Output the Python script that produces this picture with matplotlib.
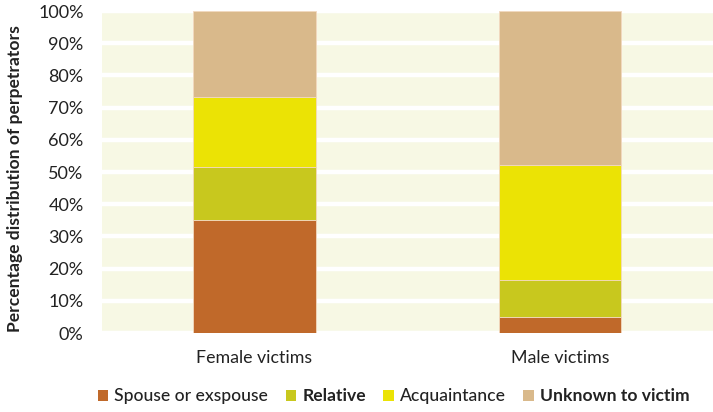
import matplotlib
matplotlib.use("Agg")
import matplotlib.pyplot as plt
from matplotlib.patches import Patch

categories = ["Female victims", "Male victims"]
series_names = ["Spouse or exspouse", "Relative", "Acquaintance", "Unknown to victim"]
spouse = [35.0, 5.0]
relative = [16.7, 11.4]
acquaintance = [21.7, 35.8]
unknown = [26.6, 47.8]
yticks = [0, 10, 20, 30, 40, 50, 60, 70, 80, 90, 100]
ytick_labels = [f"{v}%" for v in yticks]

colors = ["#C0692A", "#C8C81E", "#EBE305", "#D9B98B"]
series = [spouse, relative, acquaintance, unknown]

plt.rcParams['font.family'] = ['Lato', 'DejaVu Sans']

fig = plt.figure(figsize=(7.13, 4.12), dpi=100)
ax = fig.add_axes([0.1426, 0.1917, 0.8574, 0.7816])
ax.set_facecolor("#F7F8E4")

x = list(range(len(categories)))
bottom = [0.0] * len(categories)
for vals, c in zip(series, colors):
    ax.bar(x, vals, width=0.4, bottom=bottom, color=c, zorder=3,
           edgecolor="#F2D9C0", linewidth=0.6)
    bottom = [b + v for b, v in zip(bottom, vals)]

ax.set_xlim(-0.5, 1.5)
ax.set_ylim(0, 100)
ax.set_yticks(yticks)
ax.set_yticklabels(ytick_labels, fontsize=13, color="#222222")
ax.set_xticks(x)
ax.set_xticklabels(categories, fontsize=12.8, color="#222222")
ax.yaxis.grid(True, color="white", linewidth=3.2, zorder=1)
ax.set_axisbelow(True)
for s in ax.spines.values():
    s.set_visible(False)
ax.tick_params(axis="both", length=0)
ax.tick_params(axis="y", pad=13)
ax.tick_params(axis="x", pad=12)
ax.set_ylabel("Percentage distribution of perpetrators", fontsize=12.6,
              fontweight="bold", color="#222222")
ax.yaxis.set_label_coords(-0.129, 0.48)

handles = [Patch(facecolor=c, edgecolor="none") for c in colors]
leg = fig.legend(handles, series_names, loc="lower center", ncol=4,
                 bbox_to_anchor=(0.552, -0.02), frameon=False, fontsize=12.6,
                 handlelength=0.6, handleheight=0.6, handletextpad=0.35,
                 columnspacing=1.0)
for t, w in zip(leg.get_texts(), ["medium", "bold", "medium", "bold"]):
    t.set_fontweight(w)
    t.set_color("#222222")

fig.savefig("out.png", dpi=100)
